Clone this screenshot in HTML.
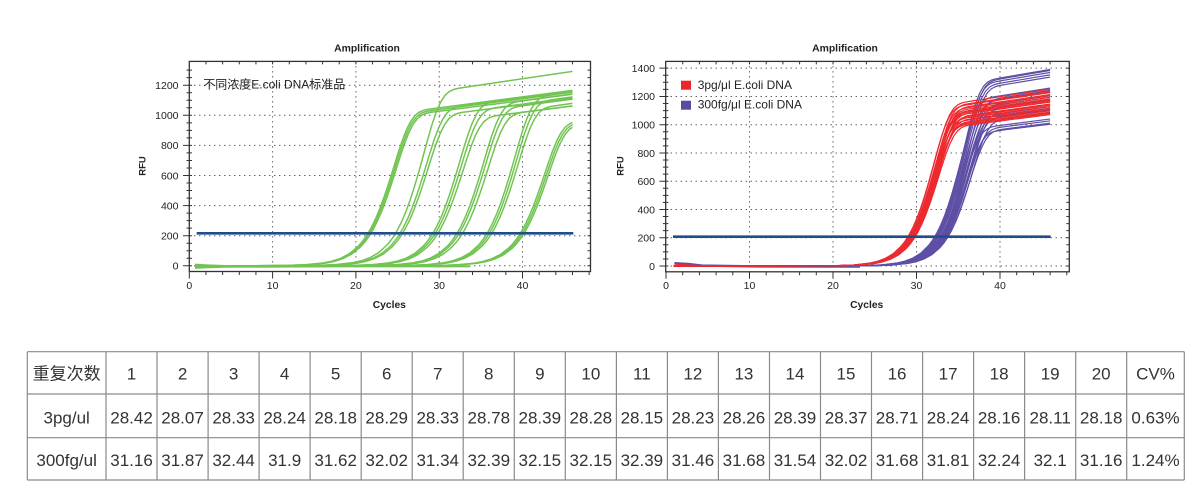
<!DOCTYPE html>
<html><head><meta charset="utf-8">
<style>
html,body{margin:0;padding:0;background:#fff;width:1194px;height:501px;overflow:hidden}
svg{display:block}
</style></head>
<body>
<svg width="1194" height="501" viewBox="0 0 1194 501" xmlns="http://www.w3.org/2000/svg" font-family="'Liberation Sans','Noto Sans CJK SC',sans-serif">
<defs>
<path id="u" vector-effect="non-scaling-stroke" fill="none" stroke-linejoin="round" d="M-300,0 L-80,-0.3 L-60,-2.5 L-50,-6.7 L-40,-18.2 L-35,-29.8 L-30,-48.6 L-25,-78.8 L-20,-126.6 L-17.5,-159.5 L-15,-200 L-12.5,-249.1 L-10,-307.8 L-7.5,-376.5 L-5,-454.8 L-2.5,-541 L0,-632.1 L2.5,-725.8 L5,-813.8 L7.5,-889.5 L10,-948 L12.5,-987.7 L15,-1010.9 L17.5,-1023 L20,-1029.4 L25,-1037.5 L30,-1045 L150,-1225"/>
<clipPath id="cl"><rect x="196" y="50" width="376.5" height="225"/></clipPath>
<clipPath id="cr"><rect x="673.5" y="50" width="376.6" height="225"/></clipPath>
</defs>

<!-- ================= LEFT CHART ================= -->
<text x="367" y="51.4" font-size="10.4" font-weight="bold" text-anchor="middle" fill="#222">Amplification</text>
<text x="389.3" y="308" font-size="10.3" font-weight="bold" text-anchor="middle" fill="#222">Cycles</text>
<text transform="translate(145.4,166) rotate(-90)" font-size="9.5" font-weight="bold" text-anchor="middle" fill="#222">RFU</text>

<g stroke="#1a1a1a" stroke-width="1" stroke-dasharray="1 4" fill="none">
<path d="M189.3,265.8H590.5 M189.3,235.7H590.5 M189.3,205.6H590.5 M189.3,175.5H590.5 M189.3,145.4H590.5 M189.3,115.3H590.5 M189.3,85.2H590.5"/>
<path d="M272.6,61.4V271.5 M355.9,61.4V271.5 M439.2,61.4V271.5 M522.5,61.4V271.5"/>
</g>

<text x="203.3" y="88.4" font-size="12" fill="#222">不同浓度E.coli DNA标准品</text>

<path d="M195,263.6 L205,264.2 L225,265 L330,265.2 L330,267.4 L225,267.8 L205,268.4 L195,268.9 Z" fill="#72c452"/>
<path d="M197,266.3 H470" stroke="#72c452" stroke-width="2.2" fill="none"/>

<g clip-path="url(#cl)" stroke="#72c452" stroke-width="1.5" fill="none">
<use href="#u" transform="translate(392.97,265.8) scale(1.7493,0.15201)"/>
<use href="#u" transform="translate(394.2,265.8) scale(1.7493,0.1505)"/>
<use href="#u" transform="translate(395.47,265.8) scale(1.7493,0.14900)"/>
<use href="#u" transform="translate(422.96,265.8) scale(1.7493,0.17232)"/>
<use href="#u" transform="translate(425.46,265.8) scale(1.7493,0.15502)"/>
<use href="#u" transform="translate(427.12,265.8) scale(1.7493,0.14900)"/>
<use href="#u" transform="translate(458.78,265.8) scale(1.7493,0.15953)"/>
<use href="#u" transform="translate(460.44,265.8) scale(1.7493,0.15351)"/>
<use href="#u" transform="translate(462.11,265.8) scale(1.7493,0.14599)"/>
<use href="#u" transform="translate(482.93,265.8) scale(1.7493,0.15953)"/>
<use href="#u" transform="translate(484.60,265.8) scale(1.7493,0.15502)"/>
<use href="#u" transform="translate(487.10,265.8) scale(1.7493,0.14900)"/>
<use href="#u" transform="translate(513.75,265.8) scale(1.7493,0.16555)"/>
<use href="#u" transform="translate(515.42,265.8) scale(1.7493,0.16104)"/>
<use href="#u" transform="translate(517.09,265.8) scale(1.7493,0.15502)"/>
<use href="#u" transform="translate(543.74,265.8) scale(1.7493,0.14072)"/>
<use href="#u" transform="translate(545.41,265.8) scale(1.7493,0.13921)"/>
<use href="#u" transform="translate(547.07,265.8) scale(1.7493,0.13771)"/>
</g>

<path d="M196.7,233.3H573.3" stroke="#1f4e8a" stroke-width="2.6" fill="none"/>

<rect x="189.3" y="61.4" width="401.2" height="210.1" fill="none" stroke="#333" stroke-width="1.3"/>
<g stroke="#333" stroke-width="1" fill="none">
<path d="M189.3,271.5v7 M272.6,271.5v7 M355.9,271.5v7 M439.2,271.5v7 M522.5,271.5v7"/>
<path d="M205.96,271.5v3.5 M222.62,271.5v3.5 M239.28,271.5v3.5 M255.94,271.5v3.5 M289.26,271.5v3.5 M305.92,271.5v3.5 M322.58,271.5v3.5 M339.24,271.5v3.5 M372.56,271.5v3.5 M389.22,271.5v3.5 M405.88,271.5v3.5 M422.54,271.5v3.5 M455.86,271.5v3.5 M472.52,271.5v3.5 M489.18,271.5v3.5 M505.84,271.5v3.5 M539.16,271.5v3.5 M555.82,271.5v3.5 M572.48,271.5v3.5 M589.14,271.5v3.5"/>
<path d="M205.96,61.4v3 M222.62,61.4v3 M239.28,61.4v3 M255.94,61.4v3 M272.6,61.4v3 M289.26,61.4v3 M305.92,61.4v3 M322.58,61.4v3 M339.24,61.4v3 M355.9,61.4v3 M372.56,61.4v3 M389.22,61.4v3 M405.88,61.4v3 M422.54,61.4v3 M439.2,61.4v3 M455.86,61.4v3 M472.52,61.4v3 M489.18,61.4v3 M505.84,61.4v3 M522.5,61.4v3 M539.16,61.4v3 M555.82,61.4v3 M572.48,61.4v3"/>
<path d="M183,265.8h9 M183,235.7h9 M183,205.6h9 M183,175.5h9 M183,145.4h9 M183,115.3h9 M183,85.2h9"/>
<path d="M186.5,258.28h5.5 M186.5,250.75h5.5 M186.5,243.23h5.5 M186.5,228.18h5.5 M186.5,220.65h5.5 M186.5,213.13h5.5 M186.5,198.08h5.5 M186.5,190.55h5.5 M186.5,183.03h5.5 M186.5,167.98h5.5 M186.5,160.45h5.5 M186.5,152.93h5.5 M186.5,137.88h5.5 M186.5,130.35h5.5 M186.5,122.83h5.5 M186.5,107.78h5.5 M186.5,100.25h5.5 M186.5,92.73h5.5 M186.5,77.68h5.5 M186.5,70.15h5.5"/>
<path d="M590.5,265.8h-3 M590.5,258.28h-3 M590.5,250.75h-3 M590.5,243.23h-3 M590.5,235.7h-3 M590.5,228.18h-3 M590.5,220.65h-3 M590.5,213.13h-3 M590.5,205.6h-3 M590.5,198.08h-3 M590.5,190.55h-3 M590.5,183.03h-3 M590.5,175.5h-3 M590.5,167.98h-3 M590.5,160.45h-3 M590.5,152.93h-3 M590.5,145.4h-3 M590.5,137.88h-3 M590.5,130.35h-3 M590.5,122.83h-3 M590.5,115.3h-3 M590.5,107.78h-3 M590.5,100.25h-3 M590.5,92.73h-3 M590.5,85.2h-3 M590.5,77.68h-3 M590.5,70.15h-3"/>
</g>
<g font-size="10.5" fill="#222" text-anchor="end">
<text x="178.5" y="269.6">0</text>
<text x="178.5" y="239.5">200</text>
<text x="178.5" y="209.4">400</text>
<text x="178.5" y="179.3">600</text>
<text x="178.5" y="149.2">800</text>
<text x="178.5" y="119.1">1000</text>
<text x="178.5" y="89.0">1200</text>
</g>
<g font-size="10.5" fill="#222" text-anchor="middle">
<text x="189.3" y="289">0</text>
<text x="272.6" y="289">10</text>
<text x="355.9" y="289">20</text>
<text x="439.2" y="289">30</text>
<text x="522.5" y="289">40</text>
</g>

<!-- ================= RIGHT CHART ================= -->
<text x="845" y="51.4" font-size="10.4" font-weight="bold" text-anchor="middle" fill="#222">Amplification</text>
<text x="866.7" y="308" font-size="10.3" font-weight="bold" text-anchor="middle" fill="#222">Cycles</text>
<text transform="translate(623.4,166) rotate(-90)" font-size="9.5" font-weight="bold" text-anchor="middle" fill="#222">RFU</text>

<g stroke="#1a1a1a" stroke-width="1" stroke-dasharray="1 4" fill="none">
<path d="M665.7,266H1069.3 M665.7,237.74H1069.3 M665.7,209.48H1069.3 M665.7,181.22H1069.3 M665.7,152.96H1069.3 M665.7,124.7H1069.3 M665.7,96.44H1069.3 M665.7,68.18H1069.3"/>
<path d="M749.5,61.4V271.8 M833,61.4V271.8 M916.5,61.4V271.8 M1000,61.4V271.8"/>
</g>

<rect x="681" y="80.7" width="10" height="9" fill="#ec2529"/>
<rect x="681" y="100.7" width="10" height="9" fill="#5b4b9f"/>
<text x="697.7" y="88.8" font-size="12" fill="#222">3pg/μl E.coli DNA</text>
<text x="697.7" y="108.6" font-size="12" fill="#222">300fg/μl E.coli DNA</text>

<path d="M674.4,263.2 L688,264 L702,265.6 L760,266.4 L860,266.6" stroke="#5e4ea5" stroke-width="2.4" fill="none"/>
<path d="M674.4,264.2 L690,265 L705,266.2" stroke="#ec2a2f" stroke-width="1.2" fill="none"/>

<g clip-path="url(#cr)" stroke="#5e4ea5" stroke-width="1.2" fill="none">
<use href="#u" transform="translate(963.51,266) scale(1.5865,0.18171)"/>
<use href="#u" transform="translate(965.18,266) scale(1.5865,0.18101)"/>
<use href="#u" transform="translate(964.26,266) scale(1.5865,0.17903)"/>
<use href="#u" transform="translate(965.85,266) scale(1.5865,0.17705)"/>
<use href="#u" transform="translate(967.44,266) scale(1.5865,0.17521)"/>
<use href="#u" transform="translate(960.50,266) scale(1.5865,0.16405)"/>
<use href="#u" transform="translate(967.10,266) scale(1.5865,0.16278)"/>
<use href="#u" transform="translate(964.43,266) scale(1.5865,0.16080)"/>
<use href="#u" transform="translate(969.02,266) scale(1.5865,0.15811)"/>
<use href="#u" transform="translate(965.43,266) scale(1.5865,0.15614)"/>
<use href="#u" transform="translate(970.36,266) scale(1.5865,0.15430)"/>
<use href="#u" transform="translate(966.77,266) scale(1.5865,0.15232)"/>
<use href="#u" transform="translate(970.69,266) scale(1.5865,0.15034)"/>
<use href="#u" transform="translate(967.02,266) scale(1.5865,0.14766)"/>
<use href="#u" transform="translate(968.44,266) scale(1.5865,0.14512)"/>
<use href="#u" transform="translate(971.44,266) scale(1.5865,0.14243)"/>
<use href="#u" transform="translate(963.93,266) scale(1.5865,0.13593)"/>
<use href="#u" transform="translate(967.94,266) scale(1.5865,0.13466)"/>
<use href="#u" transform="translate(969.52,266) scale(1.5865,0.13268)"/>
<use href="#u" transform="translate(966.18,266) scale(1.5865,0.13141)"/>
</g>
<g clip-path="url(#cr)" stroke="#ec2a2f" stroke-width="1.2" fill="none">
<use href="#u" transform="translate(933.67,266) scale(1.5865,0.15925)"/>
<use href="#u" transform="translate(935.34,266) scale(1.5865,0.15741)"/>
<use href="#u" transform="translate(932.83,266) scale(1.5865,0.15614)"/>
<use href="#u" transform="translate(937.01,266) scale(1.5865,0.15486)"/>
<use href="#u" transform="translate(934.50,266) scale(1.5865,0.15359)"/>
<use href="#u" transform="translate(936.17,266) scale(1.5865,0.15232)"/>
<use href="#u" transform="translate(937.84,266) scale(1.5865,0.15105)"/>
<use href="#u" transform="translate(935.34,266) scale(1.5865,0.15034)"/>
<use href="#u" transform="translate(933.67,266) scale(1.5865,0.14907)"/>
<use href="#u" transform="translate(937.01,266) scale(1.5865,0.14837)"/>
<use href="#u" transform="translate(934.50,266) scale(1.5865,0.14780)"/>
<use href="#u" transform="translate(938.68,266) scale(1.5865,0.14653)"/>
<use href="#u" transform="translate(936.17,266) scale(1.5865,0.14526)"/>
<use href="#u" transform="translate(935.34,266) scale(1.5865,0.14398)"/>
<use href="#u" transform="translate(937.84,266) scale(1.5865,0.14271)"/>
<use href="#u" transform="translate(934.50,266) scale(1.5865,0.14144)"/>
<use href="#u" transform="translate(937.01,266) scale(1.5865,0.14017)"/>
<use href="#u" transform="translate(936.17,266) scale(1.5865,0.13890)"/>
<use href="#u" transform="translate(935.34,266) scale(1.5865,0.13763)"/>
<use href="#u" transform="translate(937.84,266) scale(1.5865,0.13692)"/>
</g>

<path d="M673,236.7H1050.7" stroke="#1f4e8a" stroke-width="2.6" fill="none"/>

<rect x="665.7" y="61.4" width="403.6" height="210.4" fill="none" stroke="#333" stroke-width="1.3"/>
<g stroke="#333" stroke-width="1" fill="none">
<path d="M666,271.8v7 M749.5,271.8v7 M833,271.8v7 M916.5,271.8v7 M1000,271.8v7"/>
<path d="M682.7,271.8v3.5 M699.4,271.8v3.5 M716.1,271.8v3.5 M732.8,271.8v3.5 M766.2,271.8v3.5 M782.9,271.8v3.5 M799.6,271.8v3.5 M816.3,271.8v3.5 M849.7,271.8v3.5 M866.4,271.8v3.5 M883.1,271.8v3.5 M899.8,271.8v3.5 M933.2,271.8v3.5 M949.9,271.8v3.5 M966.6,271.8v3.5 M983.3,271.8v3.5 M1016.7,271.8v3.5 M1033.4,271.8v3.5 M1050.1,271.8v3.5 M1066.8,271.8v3.5"/>
<path d="M682.7,61.4v3 M699.4,61.4v3 M716.1,61.4v3 M732.8,61.4v3 M749.5,61.4v3 M766.2,61.4v3 M782.9,61.4v3 M799.6,61.4v3 M816.3,61.4v3 M833,61.4v3 M849.7,61.4v3 M866.4,61.4v3 M883.1,61.4v3 M899.8,61.4v3 M916.5,61.4v3 M933.2,61.4v3 M949.9,61.4v3 M966.6,61.4v3 M983.3,61.4v3 M1000,61.4v3 M1016.7,61.4v3 M1033.4,61.4v3 M1050.1,61.4v3"/>
<path d="M659.4,266h9 M659.4,237.74h9 M659.4,209.48h9 M659.4,181.22h9 M659.4,152.96h9 M659.4,124.7h9 M659.4,96.44h9 M659.4,68.18h9"/>
<path d="M662.9,258.94h5.5 M662.9,251.87h5.5 M662.9,244.81h5.5 M662.9,230.68h5.5 M662.9,223.61h5.5 M662.9,216.55h5.5 M662.9,202.42h5.5 M662.9,195.35h5.5 M662.9,188.29h5.5 M662.9,174.16h5.5 M662.9,167.09h5.5 M662.9,160.03h5.5 M662.9,145.9h5.5 M662.9,138.83h5.5 M662.9,131.77h5.5 M662.9,117.64h5.5 M662.9,110.57h5.5 M662.9,103.51h5.5 M662.9,89.38h5.5 M662.9,82.31h5.5 M662.9,75.25h5.5"/>
<path d="M1069.3,266h-3 M1069.3,258.94h-3 M1069.3,251.87h-3 M1069.3,244.81h-3 M1069.3,237.74h-3 M1069.3,230.68h-3 M1069.3,223.61h-3 M1069.3,216.55h-3 M1069.3,209.48h-3 M1069.3,202.42h-3 M1069.3,195.35h-3 M1069.3,188.29h-3 M1069.3,181.22h-3 M1069.3,174.16h-3 M1069.3,167.09h-3 M1069.3,160.03h-3 M1069.3,152.96h-3 M1069.3,145.9h-3 M1069.3,138.83h-3 M1069.3,131.77h-3 M1069.3,124.7h-3 M1069.3,117.64h-3 M1069.3,110.57h-3 M1069.3,103.51h-3 M1069.3,96.44h-3 M1069.3,89.38h-3 M1069.3,82.31h-3 M1069.3,75.25h-3 M1069.3,68.18h-3"/>
</g>
<g font-size="10.5" fill="#222" text-anchor="end">
<text x="655" y="269.8">0</text>
<text x="655" y="241.5">200</text>
<text x="655" y="213.3">400</text>
<text x="655" y="185.0">600</text>
<text x="655" y="156.8">800</text>
<text x="655" y="128.5">1000</text>
<text x="655" y="100.2">1200</text>
<text x="655" y="72.0">1400</text>
</g>
<g font-size="10.5" fill="#222" text-anchor="middle">
<text x="666" y="289">0</text>
<text x="749.5" y="289">10</text>
<text x="833" y="289">20</text>
<text x="916.5" y="289">30</text>
<text x="1000" y="289">40</text>
</g>

<!-- ================= TABLE ================= -->
<g stroke="#8a8a8a" stroke-width="1.2" fill="none">
<path d="M27.3,351.7H1184.3 M27.3,394H1184.3 M27.3,437.7H1184.3 M27.3,480H1184.3"/>
<path d="M27.3,351.7V480 M106,351.7V480 M157,351.7V480 M208.1,351.7V480 M259.1,351.7V480 M310.1,351.7V480 M361.2,351.7V480 M412.2,351.7V480 M463.2,351.7V480 M514.3,351.7V480 M565.3,351.7V480 M616.4,351.7V480 M667.4,351.7V480 M718.4,351.7V480 M769.5,351.7V480 M820.5,351.7V480 M871.5,351.7V480 M922.6,351.7V480 M973.6,351.7V480 M1024.6,351.7V480 M1075.7,351.7V480 M1126.7,351.7V480 M1184.3,351.7V480"/>
</g>
<g font-size="17" fill="#333" text-anchor="middle">
<text x="66.65" y="379.3">重复次数</text>
<text x="131.52" y="379.3">1</text>
<text x="182.55" y="379.3">2</text>
<text x="233.59" y="379.3">3</text>
<text x="284.62" y="379.3">4</text>
<text x="335.66" y="379.3">5</text>
<text x="386.69" y="379.3">6</text>
<text x="437.73" y="379.3">7</text>
<text x="488.76" y="379.3">8</text>
<text x="539.80" y="379.3">9</text>
<text x="590.83" y="379.3">10</text>
<text x="641.87" y="379.3">11</text>
<text x="692.90" y="379.3">12</text>
<text x="743.94" y="379.3">13</text>
<text x="794.97" y="379.3">14</text>
<text x="846.01" y="379.3">15</text>
<text x="897.04" y="379.3">16</text>
<text x="948.08" y="379.3">17</text>
<text x="999.11" y="379.3">18</text>
<text x="1050.15" y="379.3">19</text>
<text x="1101.18" y="379.3">20</text>
<text x="1155.5" y="379.3">CV%</text>

<text x="66.65" y="423.3">3pg/ul</text>
<text x="131.52" y="423.3">28.42</text>
<text x="182.55" y="423.3">28.07</text>
<text x="233.59" y="423.3">28.33</text>
<text x="284.62" y="423.3">28.24</text>
<text x="335.66" y="423.3">28.18</text>
<text x="386.69" y="423.3">28.29</text>
<text x="437.73" y="423.3">28.33</text>
<text x="488.76" y="423.3">28.78</text>
<text x="539.80" y="423.3">28.39</text>
<text x="590.83" y="423.3">28.28</text>
<text x="641.87" y="423.3">28.15</text>
<text x="692.90" y="423.3">28.23</text>
<text x="743.94" y="423.3">28.26</text>
<text x="794.97" y="423.3">28.39</text>
<text x="846.01" y="423.3">28.37</text>
<text x="897.04" y="423.3">28.71</text>
<text x="948.08" y="423.3">28.24</text>
<text x="999.11" y="423.3">28.16</text>
<text x="1050.15" y="423.3">28.11</text>
<text x="1101.18" y="423.3">28.18</text>
<text x="1155.5" y="423.3">0.63%</text>

<text x="66.65" y="466">300fg/ul</text>
<text x="131.52" y="466">31.16</text>
<text x="182.55" y="466">31.87</text>
<text x="233.59" y="466">32.44</text>
<text x="284.62" y="466">31.9</text>
<text x="335.66" y="466">31.62</text>
<text x="386.69" y="466">32.02</text>
<text x="437.73" y="466">31.34</text>
<text x="488.76" y="466">32.39</text>
<text x="539.80" y="466">32.15</text>
<text x="590.83" y="466">32.15</text>
<text x="641.87" y="466">32.39</text>
<text x="692.90" y="466">31.46</text>
<text x="743.94" y="466">31.68</text>
<text x="794.97" y="466">31.54</text>
<text x="846.01" y="466">32.02</text>
<text x="897.04" y="466">31.68</text>
<text x="948.08" y="466">31.81</text>
<text x="999.11" y="466">32.24</text>
<text x="1050.15" y="466">32.1</text>
<text x="1101.18" y="466">31.16</text>
<text x="1155.5" y="466">1.24%</text>
</g>
</svg>
</body></html>
